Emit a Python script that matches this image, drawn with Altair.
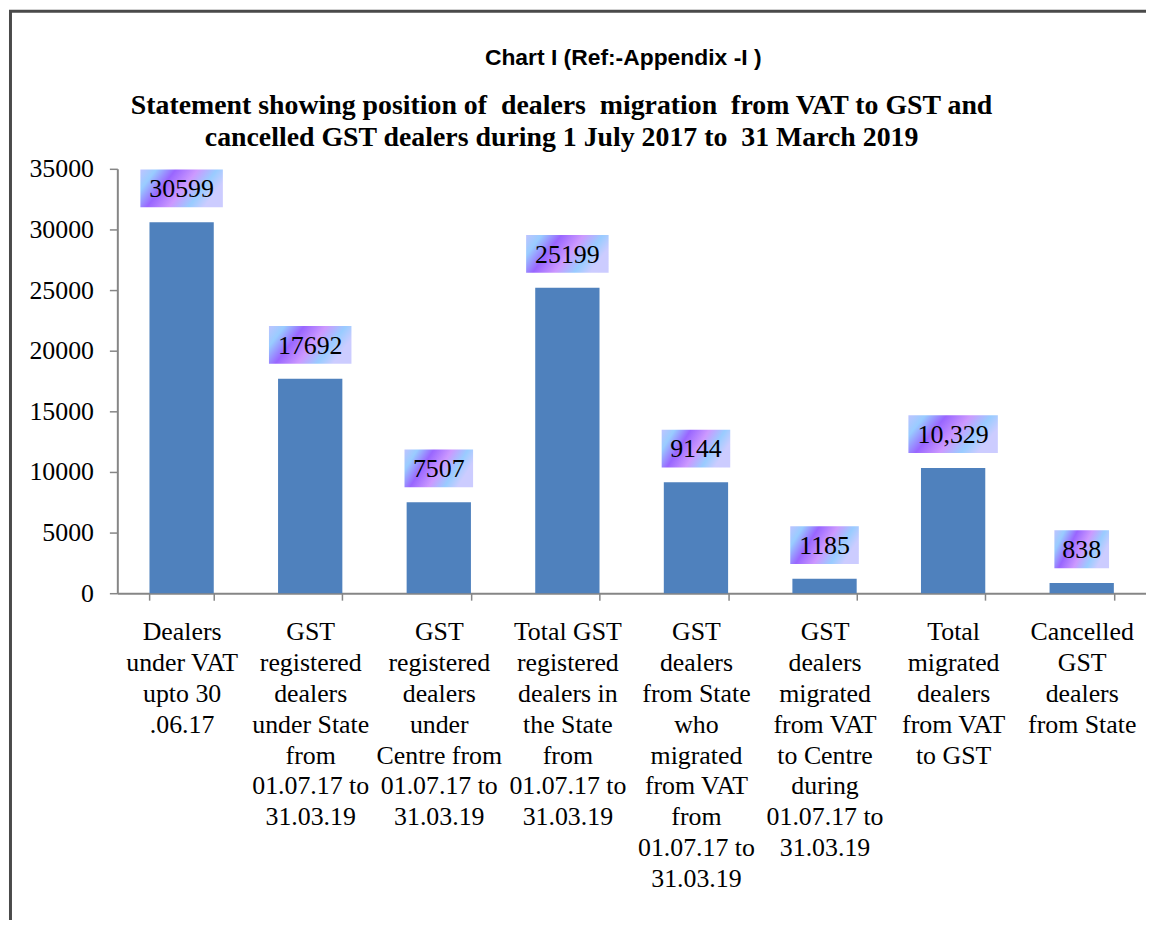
import altair as alt
import pandas as pd

categories = [
    "Dealers|under VAT|upto 30|.06.17",
    "GST|registered|dealers|under State|from|01.07.17 to|31.03.19",
    "GST|registered|dealers|under|Centre from|01.07.17 to|31.03.19",
    "Total GST|registered|dealers in|the State|from|01.07.17 to|31.03.19",
    "GST|dealers|from State|who|migrated|from VAT|from|01.07.17 to|31.03.19",
    "GST|dealers|migrated|from VAT|to Centre|during|01.07.17 to|31.03.19",
    "Total|migrated|dealers|from VAT|to GST",
    "Cancelled|GST|dealers|from State",
]
values = [30599, 17692, 7507, 25199, 9144, 1185, 10329, 838]
value_labels = ["30599", "17692", "7507", "25199", "9144", "1185", "10,329", "838"]

NB = "\u00a0"
title_top = "Chart I (Ref:-Appendix -I )"
title_lines = [
    "Statement showing position of" + NB + NB + "dealers" + NB + NB + "migration" + NB + NB + "from VAT to GST and",
    "cancelled GST dealers during 1 July 2017 to" + NB + NB + "31 March 2019",
]

df = pd.DataFrame({"cat": categories, "value": values, "lbl": value_labels})
one = pd.DataFrame({"k": [0]})

SERIF = "Liberation Serif"
W, H = 1035, 427

x_enc = alt.X(
    "cat:N",
    sort=categories,
    scale=alt.Scale(paddingInner=0.5, paddingOuter=0.25),
    axis=alt.Axis(
        title=None,
        labelAngle=0,
        labelExpr="split(datum.label, '|')",
        labelBaseline="top",
        labelAlign="center",
        labelFont=SERIF,
        labelFontSize=26,
        labelColor="black",
        labelLineHeight=31,
        labelLimit=300,
        labelPadding=19,
        tickSize=7,
        tickColor="#868686",
        tickWidth=1.5,
        tickBand="extent",
        domainColor="#868686",
        domainWidth=2,
        grid=False,
    ),
)
y_enc = alt.Y(
    "value:Q",
    scale=alt.Scale(domain=[0, 35000], nice=False),
    axis=alt.Axis(
        title=None,
        values=list(range(0, 35001, 5000)),
        format="d",
        labelFont=SERIF,
        labelFontSize=26,
        labelColor="black",
        labelPadding=16,
        tickSize=8,
        tickColor="#868686",
        tickWidth=1.5,
        domainColor="#868686",
        domainWidth=2,
        grid=False,
    ),
)

bars = alt.Chart(df).mark_bar(color="#4F81BD").encode(x=x_enc, y=y_enc)

grad = alt.Gradient(
    gradient="linear",
    x1=0, y1=0, x2=1, y2=0.35,
    stops=[
        alt.GradientStop(offset=0.0, color="#BEC4FF"),
        alt.GradientStop(offset=0.17, color="#99CCFF"),
        alt.GradientStop(offset=0.38, color="#9966FF"),
        alt.GradientStop(offset=0.62, color="#CC99FF"),
        alt.GradientStop(offset=0.83, color="#99CCFF"),
        alt.GradientStop(offset=1.0, color="#CCCCFF"),
    ],
)

boxes = (
    alt.Chart(df)
    .transform_calculate(
        bw="14*length(replace(datum.lbl, ',', '')) + 13 + (indexof(datum.lbl, ',') >= 0 ? 7 : 0)"
    )
    .mark_bar(fill=grad, yOffset=-53, y2Offset=-15)
    .encode(
        x=alt.X("cat:N", sort=categories),
        y=alt.Y("value:Q"),
        y2=alt.Y2("value"),
        size=alt.Size("bw:Q", scale=None, legend=None),
    )
)

texts = (
    alt.Chart(df)
    .mark_text(font=SERIF, fontSize=26, color="black", baseline="middle", yOffset=-33)
    .encode(x=alt.X("cat:N", sort=categories), y=alt.Y("value:Q"), text="lbl:N")
)

frame = (
    alt.Chart(one)
    .mark_rect(fill=None, stroke="#4a4a4a", strokeWidth=3)
    .encode(
        x=alt.value(-107.5), y=alt.value(-158.5),
        x2=alt.value(W + 200), y2=alt.value(H + 500),
    )
)

t_top = (
    alt.Chart(one)
    .mark_text(font="Liberation Sans", fontSize=23, fontWeight="bold", color="black",
               baseline="middle", align="center")
    .encode(x=alt.value(509), y=alt.value(-111), text=alt.value(title_top))
)
t1 = (
    alt.Chart(one)
    .mark_text(font=SERIF, fontSize=28, fontWeight="bold", color="black",
               baseline="middle", align="center")
    .encode(x=alt.value(447), y=alt.value(-63), text=alt.value(title_lines[0]))
)
t2 = (
    alt.Chart(one)
    .mark_text(font=SERIF, fontSize=28, fontWeight="bold", color="black",
               baseline="middle", align="center")
    .encode(x=alt.value(447), y=alt.value(-31), text=alt.value(title_lines[1]))
)

chart = (
    alt.layer(frame, bars, boxes, texts, t_top, t1, t2)
    .properties(
        width=W, height=H,
        autosize=alt.AutoSizeParams(type="none"),
        padding={"left": 110, "top": 159, "right": 0, "bottom": 326},
        background="white",
    )
    .configure_view(stroke=None)
)

chart.save("out.html", embed_options={"renderer": "svg", "actions": False})
